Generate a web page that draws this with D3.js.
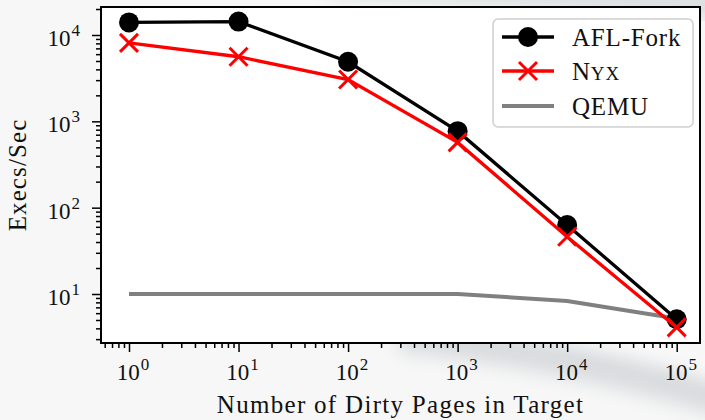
<!DOCTYPE html>
<html>
<head>
<meta charset="utf-8">
<script src="https://cdn.jsdelivr.net/npm/d3@7"></script>
<style>
  html, body { margin: 0; padding: 0; background: #f7f7f7; }
  svg { display: block; }
</style>
</head>
<body>
<div id="chart"></div>
<script>
// values
const pages = [1, 10, 100, 1000, 10000, 100000];
const aflFork = [14000, 14300, 4900, 770, 63, 5.1];
const nyx = [8100, 5600, 3050, 570, 46, 4.1];
const qemu = [10, 10, 10, 10, 8.3, 5.2];
const xTickExp = [0, 1, 2, 3, 4, 5];
const yTickExp = [1, 2, 3, 4];

const width = 705;
const height = 420;
const frame = { left: 101, right: 700, top: 7, bottom: 343 };
const serif = '"Liberation Serif", "Times New Roman", Times, serif';

const svg = d3.select('#chart').append('svg')
  .attr('width', width)
  .attr('height', height)
  .attr('font-family', serif)
  .style('font-family', serif);

// faint slide background swoosh
const defs = svg.append('defs');
defs.append('filter').attr('id', 'blur')
  .attr('x', '-50%').attr('y', '-50%').attr('width', '200%').attr('height', '200%')
  .append('feGaussianBlur').attr('stdDeviation', 9);

svg.append('rect').attr('width', width).attr('height', height).style('fill', '#f7f7f7');
svg.append('path')
  .attr('d', 'M330,-18 Q560,-6 760,8')
  .style('fill', 'none').style('stroke', '#dcdfe0').style('stroke-width', 30)
  .attr('filter', 'url(#blur)');
svg.append('path')
  .attr('d', 'M400,335 Q570,352 740,405')
  .style('fill', 'none').style('stroke', '#d9dcde').style('stroke-width', 34)
  .attr('filter', 'url(#blur)');
svg.append('path')
  .attr('d', 'M480,322 Q610,334 740,376')
  .style('fill', 'none').style('stroke', '#fbfbfb').style('stroke-width', 8)
  .attr('filter', 'url(#blur)');

const xScale = d3.scaleLog()
  .domain([1, 1e5])
  .range([129, 676.7]);

const yScale = d3.scaleLog()
  .domain([10, 1e4])
  .range([294, 35]);

// plot background
svg.append('rect')
  .attr('x', frame.left).attr('y', frame.top)
  .attr('width', frame.right - frame.left)
  .attr('height', frame.bottom - frame.top)
  .style('fill', '#fff');

// minor tick values inside the frame
const xMin = xScale.invert(frame.left);
const xMax = xScale.invert(frame.right);
const yMin = yScale.invert(frame.bottom);
const yMax = yScale.invert(frame.top);

function minorTicks(lo, hi) {
  const out = [];
  for (let e = Math.floor(Math.log10(lo)); e <= Math.ceil(Math.log10(hi)); e++) {
    for (let m = 2; m <= 9; m++) {
      const v = m * Math.pow(10, e);
      if (v >= lo && v <= hi) out.push(v);
    }
  }
  return out;
}

const xMajor = xTickExp.map((e) => Math.pow(10, e));
const yMajor = yTickExp.map((e) => Math.pow(10, e));

// x axis ticks
const xAxisMajor = d3.axisBottom(xScale).tickValues(xMajor).tickSize(9).tickFormat('');
const xAxisMinor = d3.axisBottom(xScale).tickValues(minorTicks(xMin, xMax)).tickSize(5).tickFormat('');
[xAxisMajor, xAxisMinor].forEach((ax) => {
  const g = svg.append('g')
    .attr('transform', `translate(0,${frame.bottom})`)
    .call(ax);
  g.select('.domain').remove();
  g.selectAll('.tick line').style('stroke', '#000').style('stroke-width', 1.5);
});

// y axis ticks
const yAxisMajor = d3.axisLeft(yScale).tickValues(yMajor).tickSize(9).tickFormat('');
const yAxisMinor = d3.axisLeft(yScale).tickValues(minorTicks(yMin, yMax)).tickSize(5).tickFormat('');
[yAxisMajor, yAxisMinor].forEach((ax) => {
  const g = svg.append('g')
    .attr('transform', `translate(${frame.left},0)`)
    .call(ax);
  g.select('.domain').remove();
  g.selectAll('.tick line').style('stroke', '#000').style('stroke-width', 1.5);
});

// tick labels with superscripts
xTickExp.forEach((e) => {
  const t = svg.append('text')
    .attr('x', xScale(Math.pow(10, e)) + 4)
    .attr('y', 380)
    .style('text-anchor', 'middle')
    .style('font-size', '23px')
    .style('fill', '#111');
  t.append('tspan').text('10');
  t.append('tspan').attr('dx', 1).attr('dy', -10).style('font-size', '17px').text(e);
});

yTickExp.forEach((e) => {
  const t = svg.append('text')
    .attr('x', 80)
    .attr('y', yScale(Math.pow(10, e)) + 11)
    .style('text-anchor', 'end')
    .style('font-size', '23px')
    .style('fill', '#111');
  t.append('tspan').text('10');
  t.append('tspan').attr('dx', 1).attr('dy', -10).style('font-size', '17px').text(e);
});

// axis labels
svg.append('text')
  .attr('x', (frame.left + frame.right) / 2)
  .attr('y', 413)
  .style('text-anchor', 'middle')
  .style('font-size', '25px')
  .style('letter-spacing', '1.3px')
  .style('fill', '#111')
  .text('Number of Dirty Pages in Target');

svg.append('text')
  .attr('transform', `translate(26,${(frame.top + frame.bottom) / 2}) rotate(-90)`)
  .style('text-anchor', 'middle')
  .style('font-size', '25px')
  .style('letter-spacing', '1.1px')
  .style('fill', '#111')
  .text('Execs/Sec');

// lines
const plot = svg.append('g');

const line = (vals) => d3.line()
  .x((d, i) => xScale(pages[i]))
  .y((d) => yScale(d))(vals);

plot.append('path')
  .attr('d', line(qemu))
  .style('fill', 'none').style('stroke', '#808080').style('stroke-width', 4);

plot.append('path')
  .attr('d', line(aflFork))
  .style('fill', 'none').style('stroke', '#000').style('stroke-width', 3.3);

plot.selectAll('.afl-dot')
  .data(aflFork)
  .join('circle')
  .attr('class', 'afl-dot')
  .attr('cx', (d, i) => xScale(pages[i]))
  .attr('cy', (d) => yScale(d))
  .attr('r', 10)
  .style('fill', '#000');

plot.append('path')
  .attr('d', line(nyx))
  .style('fill', 'none').style('stroke', '#ff0000').style('stroke-width', 3.3);

const crossPath = (cx, cy, s) =>
  `M${cx - s},${cy - s}L${cx + s},${cy + s}M${cx - s},${cy + s}L${cx + s},${cy - s}`;

plot.selectAll('.nyx-x')
  .data(nyx)
  .join('path')
  .attr('class', 'nyx-x')
  .attr('d', (d, i) => crossPath(xScale(pages[i]), yScale(d), 9))
  .style('fill', 'none').style('stroke', '#ff0000').style('stroke-width', 3);

// frame
svg.append('rect')
  .attr('x', frame.left).attr('y', frame.top)
  .attr('width', frame.right - frame.left)
  .attr('height', frame.bottom - frame.top)
  .style('fill', 'none').style('stroke', '#000').style('stroke-width', 2);

// legend
const legend = svg.append('g').attr('transform', 'translate(493,19)');
legend.append('rect')
  .attr('width', 200).attr('height', 108).attr('rx', 5)
  .style('fill', '#fff').style('fill-opacity', 0.85)
  .style('stroke', '#d0d0d0').style('stroke-width', 1.5);

const rows = [18, 52, 87];

legend.append('line').attr('x1', 9).attr('x2', 61).attr('y1', rows[0]).attr('y2', rows[0])
  .style('stroke', '#000').style('stroke-width', 3.3);
legend.append('circle').attr('cx', 35).attr('cy', rows[0]).attr('r', 10).style('fill', '#000');

legend.append('line').attr('x1', 9).attr('x2', 61).attr('y1', rows[1]).attr('y2', rows[1])
  .style('stroke', '#ff0000').style('stroke-width', 3.3);
legend.append('path').attr('d', crossPath(35, rows[1], 9))
  .style('fill', 'none').style('stroke', '#ff0000').style('stroke-width', 3);

legend.append('line').attr('x1', 9).attr('x2', 61).attr('y1', rows[2]).attr('y2', rows[2])
  .style('stroke', '#808080').style('stroke-width', 4);

legend.append('text').attr('x', 79).attr('y', rows[0] + 9)
  .style('font-size', '25px').style('letter-spacing', '0.8px').style('fill', '#111').text('AFL-Fork');
const nyxLabel = legend.append('text').attr('x', 79).attr('y', rows[1] + 9)
  .style('font-size', '25px').style('letter-spacing', '0.8px').style('fill', '#111');
nyxLabel.append('tspan').text('N');
nyxLabel.append('tspan').style('font-size', '19px').text('YX');
legend.append('text').attr('x', 79).attr('y', rows[2] + 9)
  .style('font-size', '25px').style('letter-spacing', '0.8px').style('fill', '#111').text('QEMU');
</script>
</body>
</html>
